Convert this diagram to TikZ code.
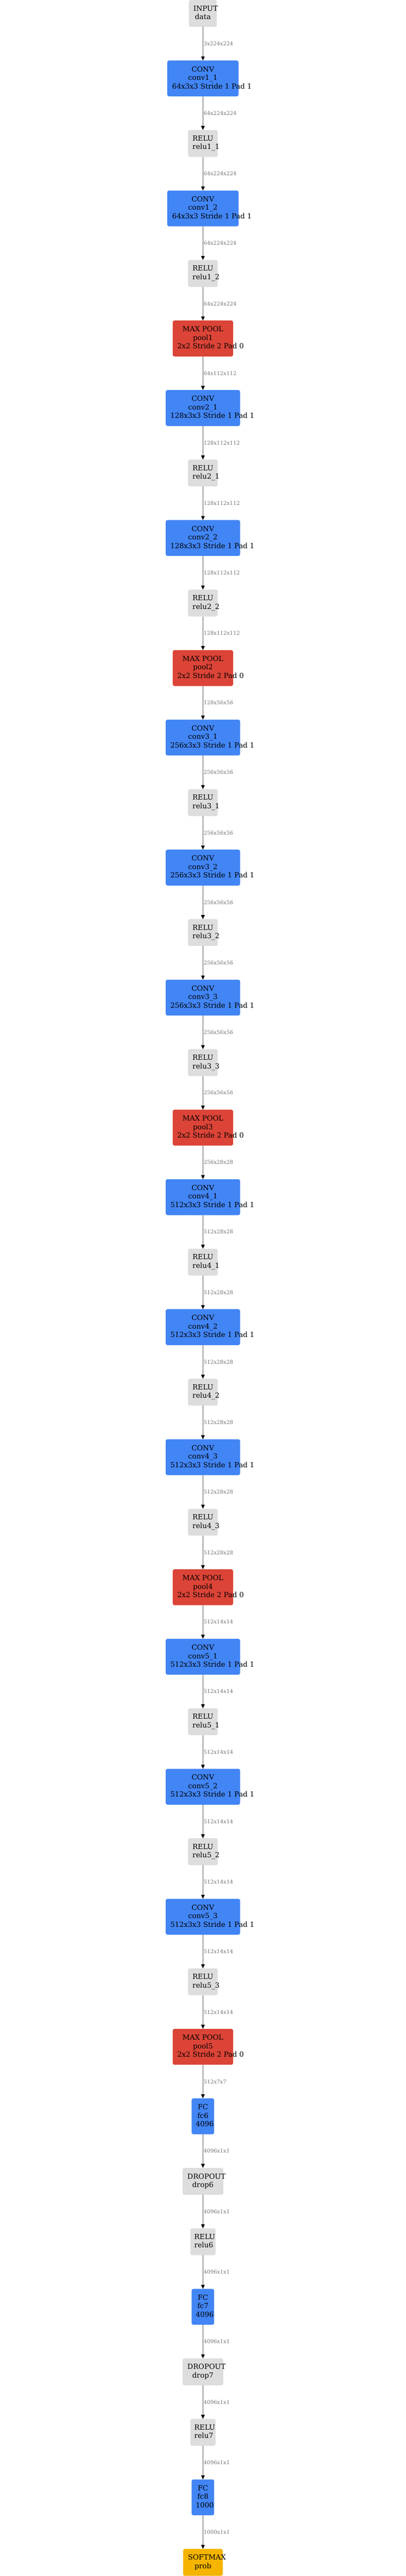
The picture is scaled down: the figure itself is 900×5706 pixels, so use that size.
\documentclass[tikz,border=0pt]{standalone}
\usepackage{fontspec}
\setmainfont{DejaVu Serif}
\usetikzlibrary{arrows.meta,positioning}
\definecolor{gbg}{HTML}{DDDDDD}
\definecolor{bbg}{HTML}{4285F4}
\definecolor{rbg}{HTML}{DB4437}
\definecolor{ybg}{HTML}{F4B400}
\definecolor{edgec}{HTML}{5F5F5F}
\definecolor{lblc}{HTML}{747474}
\newcommand\lyr[2]{\makebox[0pt]{\hspace*{#1}#2}}
\newcommand\tl[1]{\begin{tabular}{@{}c@{}}#1\end{tabular}}
\tikzset{
  box/.style={rounded corners=4pt, inner sep=0pt, outer sep=0pt, text=black,
    font=\fontsize{15.75}{18.8}\selectfont, anchor=north},
  h2/.style={minimum height=59.5pt},
  h3/.style={minimum height=79.5pt},
  grayb/.style={box, h2, fill=gbg},
  inputb/.style={grayb, minimum width=62pt},
  relub/.style={grayb, minimum width=66pt},
  relusb/.style={grayb, minimum width=56pt},
  dropb/.style={grayb, minimum width=90pt},
  convsb/.style={box, h3, fill=bbg, minimum width=158pt},
  convb/.style={box, h3, fill=bbg, minimum width=165pt},
  poolb/.style={box, h3, fill=rbg, minimum width=134pt},
  fcb/.style={box, h3, fill=bbg, minimum width=50pt},
  softb/.style={box, h2, fill=ybg, minimum width=88pt},
  edge/.style={draw=edgec, line width=1.5pt, -{Triangle[length=9pt,width=8pt,color=black]}, shorten >=0pt},
  lbl/.style={anchor=west, inner sep=0pt, xshift=1pt, text=lblc, font=\fontsize{11.7}{14}\selectfont},
  node distance=74.5pt
}
\newcommand\convtxt[3]{\tl{\lyr{0pt}{CONV}\\\lyr{0pt}{#1}\\\lyr{#3}{#2 Stride 1 Pad 1}}}
\newcommand\relutxt[1]{\tl{\lyr{0pt}{RELU}\\\lyr{14pt}{#1}}}
\newcommand\pooltxt[1]{\tl{\lyr{0pt}{MAX POOL}\\\lyr{0pt}{#1}\\\lyr{34pt}{2x2 Stride 2 Pad 0}}}
\begin{document}
\begin{tikzpicture}
\useasboundingbox (0,0) rectangle (900pt,-5706pt);
\node[inputb] (input) at (450pt,0) {\tl{\lyr{12pt}{INPUT}\\\lyr{0pt}{data}}};
\node[convsb, below=of input] (c11) {\convtxt{conv1\_1}{64x3x3}{40pt}};
\node[relub, below=of c11] (r11) {\relutxt{relu1\_1}};
\node[convsb, below=of r11] (c12) {\convtxt{conv1\_2}{64x3x3}{40pt}};
\node[relub, below=of c12] (r12) {\relutxt{relu1\_2}};
\node[poolb, below=of r12] (p1) {\pooltxt{pool1}};
\node[convb, below=of p1] (c21) {\convtxt{conv2\_1}{128x3x3}{42pt}};
\node[relub, below=of c21] (r21) {\relutxt{relu2\_1}};
\node[convb, below=of r21] (c22) {\convtxt{conv2\_2}{128x3x3}{42pt}};
\node[relub, below=of c22] (r22) {\relutxt{relu2\_2}};
\node[poolb, below=of r22] (p2) {\pooltxt{pool2}};
\node[convb, below=of p2] (c31) {\convtxt{conv3\_1}{256x3x3}{42pt}};
\node[relub, below=of c31] (r31) {\relutxt{relu3\_1}};
\node[convb, below=of r31] (c32) {\convtxt{conv3\_2}{256x3x3}{42pt}};
\node[relub, below=of c32] (r32) {\relutxt{relu3\_2}};
\node[convb, below=of r32] (c33) {\convtxt{conv3\_3}{256x3x3}{42pt}};
\node[relub, below=of c33] (r33) {\relutxt{relu3\_3}};
\node[poolb, below=of r33] (p3) {\pooltxt{pool3}};
\node[convb, below=of p3] (c41) {\convtxt{conv4\_1}{512x3x3}{42pt}};
\node[relub, below=of c41] (r41) {\relutxt{relu4\_1}};
\node[convb, below=of r41] (c42) {\convtxt{conv4\_2}{512x3x3}{42pt}};
\node[relub, below=of c42] (r42) {\relutxt{relu4\_2}};
\node[convb, below=of r42] (c43) {\convtxt{conv4\_3}{512x3x3}{42pt}};
\node[relub, below=of c43] (r43) {\relutxt{relu4\_3}};
\node[poolb, below=of r43] (p4) {\pooltxt{pool4}};
\node[convb, below=of p4] (c51) {\convtxt{conv5\_1}{512x3x3}{42pt}};
\node[relub, below=of c51] (r51) {\relutxt{relu5\_1}};
\node[convb, below=of r51] (c52) {\convtxt{conv5\_2}{512x3x3}{42pt}};
\node[relub, below=of c52] (r52) {\relutxt{relu5\_2}};
\node[convb, below=of r52] (c53) {\convtxt{conv5\_3}{512x3x3}{42pt}};
\node[relub, below=of c53] (r53) {\relutxt{relu5\_3}};
\node[poolb, below=of r53] (p5) {\pooltxt{pool5}};
\node[fcb, below=of p5] (fc6) {\tl{\lyr{0pt}{FC}\\\lyr{0pt}{fc6}\\\lyr{8pt}{4096}}};
\node[dropb, below=of fc6] (d6) {\tl{\lyr{16pt}{DROPOUT}\\\lyr{0pt}{drop6}}};
\node[relusb, below=of d6] (r6) {\tl{\lyr{8pt}{RELU}\\\lyr{4pt}{relu6}}};
\node[fcb, below=of r6] (fc7) {\tl{\lyr{0pt}{FC}\\\lyr{0pt}{fc7}\\\lyr{8pt}{4096}}};
\node[dropb, below=of fc7] (d7) {\tl{\lyr{16pt}{DROPOUT}\\\lyr{0pt}{drop7}}};
\node[relusb, below=of d7] (r7) {\tl{\lyr{8pt}{RELU}\\\lyr{4pt}{relu7}}};
\node[fcb, below=of r7] (fc8) {\tl{\lyr{0pt}{FC}\\\lyr{0pt}{fc8}\\\lyr{8pt}{1000}}};
\node[softb, below=of fc8] (prob) {\tl{\lyr{18pt}{SOFTMAX}\\\lyr{0pt}{prob}}};
\foreach \a/\b/\t in {input/c11/3x224x224, c11/r11/64x224x224, r11/c12/64x224x224,
  c12/r12/64x224x224, r12/p1/64x224x224, p1/c21/64x112x112,
  c21/r21/128x112x112, r21/c22/128x112x112, c22/r22/128x112x112, r22/p2/128x112x112,
  p2/c31/128x56x56, c31/r31/256x56x56, r31/c32/256x56x56, c32/r32/256x56x56,
  r32/c33/256x56x56, c33/r33/256x56x56, r33/p3/256x56x56, p3/c41/256x28x28,
  c41/r41/512x28x28, r41/c42/512x28x28, c42/r42/512x28x28, r42/c43/512x28x28,
  c43/r43/512x28x28, r43/p4/512x28x28, p4/c51/512x14x14, c51/r51/512x14x14,
  r51/c52/512x14x14, c52/r52/512x14x14, r52/c53/512x14x14, c53/r53/512x14x14,
  r53/p5/512x14x14, p5/fc6/512x7x7, fc6/d6/4096x1x1, d6/r6/4096x1x1,
  r6/fc7/4096x1x1, fc7/d7/4096x1x1, d7/r7/4096x1x1, r7/fc8/4096x1x1, fc8/prob/1000x1x1}
  {\draw[edge] (\a.south) -- node[lbl] {\t} (\b.north);}
\end{tikzpicture}
\end{document}
